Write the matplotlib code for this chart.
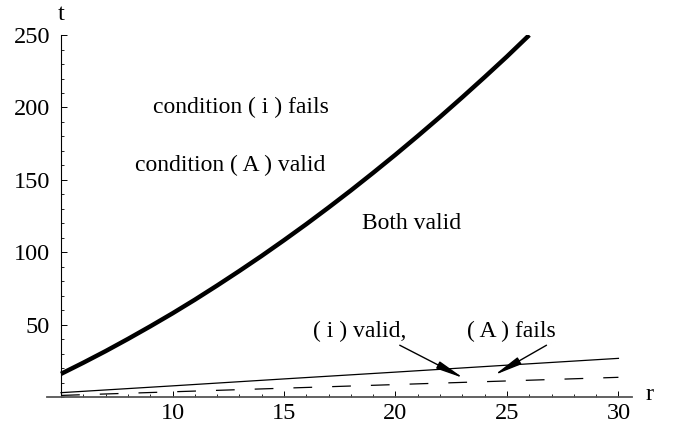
import matplotlib.pyplot as plt
from matplotlib.ticker import MultipleLocator

plt.rcParams['font.family'] = ['Liberation Serif', 'DejaVu Serif']

# boundary of condition (i): thick curve
r_i = [5, 6, 7, 8, 9, 10, 11, 12, 13, 14, 15, 16, 17, 18, 19, 20, 21, 22, 23, 24, 25, 26]
t_i = [16.0, 23.7, 31.7, 40.1, 48.8, 57.8, 67.2, 77.0, 87.1, 97.5, 108.3, 119.4,
       130.9, 142.7, 154.9, 167.4, 180.3, 193.5, 207.1, 221.0, 235.2, 250.0]

# boundary of condition (A): thin solid line
r_a = [5, 10, 15, 20, 25, 30]
t_a = [3.0, 7.7, 12.5, 17.2, 22.0, 26.7]

# lower dashed curve
r_d = [5, 10, 15, 20, 25, 30]
t_d = [1.1, 3.6, 6.1, 8.6, 11.1, 13.6]

fig = plt.figure(figsize=(6.84, 4.28), dpi=100)
ax = fig.add_axes([0.0687, 0.0724, 0.855, 0.8456])

ax.plot(r_i, t_i, color='black', lw=3.2, solid_capstyle='butt')
ax.plot(r_a, t_a, color='black', lw=0.9)
ax.plot(r_d, t_d, color='black', lw=0.9, dashes=(15, 16))

ax.set_xlim(4.37, 30.6)
ax.set_ylim(0, 250)

# axes cross at (5, 0), Mathematica style
for s in ['top', 'right']:
    ax.spines[s].set_visible(False)
ax.spines['left'].set_position(('data', 5))
ax.spines['left'].set_linewidth(0.8)
ax.spines['left'].set_bounds(0, 250)
ax.spines['bottom'].set_color('#555555')
ax.spines['bottom'].set_linewidth(1.3)

ax.set_xticks([10, 15, 20, 25, 30])
ax.xaxis.set_minor_locator(MultipleLocator(1))
ax.set_yticks([50, 100, 150, 200, 250])
ax.yaxis.set_minor_locator(MultipleLocator(10))
ax.tick_params(axis='both', which='major', direction='in', length=4, width=0.7,
               labelsize=17.5, color='black')
ax.tick_params(axis='both', which='minor', direction='in', length=2.3, width=0.6,
               color='black')
ax.tick_params(axis='y', pad=8)
ax.tick_params(axis='x', pad=4)

ax.text(5.0, 264, 't', fontsize=17.5, ha='center', va='center')
ax.text(31.4, 2, 'r', fontsize=17.5, ha='center', va='center')

txt = dict(fontsize=17, ha='center', va='center')
ax.text(13.05, 200, 'condition ( i ) fails', **txt)
ax.text(12.6, 160, 'condition ( A ) valid', **txt)
ax.text(20.7, 120, 'Both valid', **txt)

arrow = dict(arrowstyle='-|>,head_length=1.2,head_width=0.17', color='black',
             lw=1.0, mutation_scale=14, shrinkA=0, shrinkB=0)
ax.annotate('( i ) valid,', xy=(23.05, 13.1), xytext=(18.4, 45), textcoords='data',
            arrowprops=dict(arrow, relpos=(0.87, 0.0)), **txt)
ax.annotate('( A ) fails', xy=(24.44, 15.2), xytext=(25.2, 45), textcoords='data',
            arrowprops=dict(arrow, relpos=(0.95, 0.0)), **txt)

fig.savefig('out.png', dpi=100)
